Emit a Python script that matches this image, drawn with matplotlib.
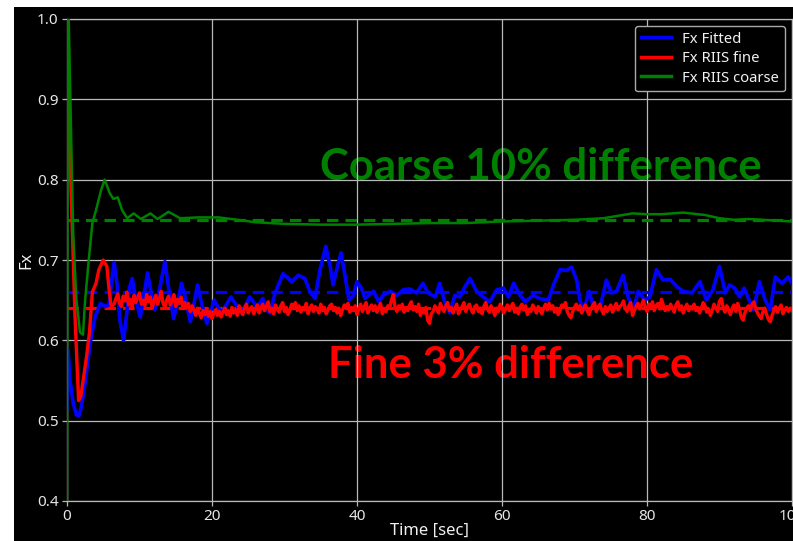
import numpy as np
import matplotlib
matplotlib.use("Agg")
import matplotlib.pyplot as plt
from matplotlib.patches import Rectangle

plt.rcParams['font.family'] = ['Noto Sans', 'DejaVu Sans']

# ---------------- data ----------------
fitted_t = [0, 0.15, 0.4, 0.85, 1.3, 1.65, 2.0, 2.5, 3.2, 3.9, 4.6, 5.3, 5.8, 6.1, 6.5, 6.9, 7.3,
            7.8, 8.2, 8.6, 9.0, 9.5, 10.1, 10.6, 11.1, 11.6, 12.1, 12.8, 13.5, 14.1, 14.7, 15.2,
            15.8, 16.4, 17.0, 17.5, 18.0, 18.6, 19.3, 20.3, 21.3, 22.6, 24.1, 25.2,
            26.2, 27.0, 27.5, 28.0, 28.7, 29.8, 31.0, 31.9, 32.8, 33.5, 34.2, 34.9, 35.7, 36.3,
            36.7, 37.3, 37.8, 38.3, 38.9, 39.5, 40.0, 40.6, 41.1, 41.6, 42.3, 43.0, 43.6, 44.6,
            45.5, 46.4, 47.3, 48.2, 49.1, 49.8, 50.8, 51.4, 52.1, 52.8, 53.5, 54.2, 54.9, 55.6,
            56.5, 57.4, 58.3, 59.3, 60.2, 60.9, 61.6, 62.5, 63.2, 64.3, 65.2, 66.4, 67.1, 68.0,
            68.9, 69.6, 70.3, 70.8, 71.3, 72.0, 72.6, 73.5, 74.4, 75.1, 75.8, 76.7, 77.4, 78.1,
            78.8, 79.7, 80.4, 81.3, 82.2, 83.2, 84.1, 85.0, 86.2, 87.3, 88.2, 89.1, 90.0, 90.8,
            91.4, 92.1, 92.8, 93.4, 94.0, 94.7, 95.5, 96.3, 97.0, 97.7, 98.6, 99.5, 100.0]
fitted_v = [0.513, 0.588, 0.551, 0.522, 0.507, 0.506, 0.518, 0.547, 0.597, 0.630, 0.646, 0.642,
            0.645, 0.670, 0.697, 0.670, 0.625, 0.600, 0.630, 0.665, 0.677, 0.650, 0.629, 0.655,
            0.684, 0.660, 0.638, 0.665, 0.698, 0.660, 0.627, 0.645, 0.671, 0.650, 0.623, 0.645,
            0.669, 0.645, 0.621, 0.650, 0.634, 0.654, 0.634, 0.654,
            0.642, 0.652, 0.638, 0.634, 0.659, 0.683, 0.673, 0.681, 0.677, 0.661, 0.652, 0.688,
            0.717, 0.692, 0.669, 0.692, 0.709, 0.683, 0.650, 0.656, 0.673, 0.665, 0.652, 0.656,
            0.661, 0.648, 0.656, 0.661, 0.656, 0.663, 0.664, 0.659, 0.671, 0.659, 0.654, 0.671,
            0.648, 0.634, 0.656, 0.654, 0.667, 0.677, 0.661, 0.654, 0.648, 0.663, 0.665, 0.654,
            0.671, 0.656, 0.648, 0.656, 0.652, 0.650, 0.669, 0.688, 0.687, 0.691, 0.675, 0.648,
            0.638, 0.661, 0.642, 0.640, 0.675, 0.659, 0.661, 0.681, 0.654, 0.638, 0.661, 0.650,
            0.654, 0.688, 0.675, 0.676, 0.667, 0.661, 0.659, 0.673, 0.650, 0.663, 0.692, 0.659,
            0.669, 0.665, 0.654, 0.665, 0.652, 0.638, 0.673, 0.650, 0.638, 0.679, 0.671, 0.679,
            0.671]

fine_start_t = [0, 0.15, 0.6, 1.1, 1.6, 1.9, 2.3, 2.7, 3.1, 3.5, 4.0, 4.4, 5.0, 5.5, 5.8, 6.1]
fine_start_v = [1.0, 0.90, 0.775, 0.63, 0.525, 0.53, 0.555, 0.58, 0.61, 0.66, 0.671, 0.688,
                0.700, 0.692, 0.663, 0.642]
fine_noise_t0 = 6.5
fine_step = 0.25
fine_noise = [
    0.645, 0.652, 0.658, 0.646, 0.642, 0.655, 0.649, 0.660, 0.644, 0.651, 0.641, 0.656, 0.647, 0.653, 0.659, 0.645, 0.650, 0.643, 0.657, 0.648,
    0.654, 0.640, 0.649, 0.656, 0.645, 0.652, 0.661, 0.646, 0.641, 0.650, 0.655, 0.644, 0.649, 0.657, 0.642, 0.651, 0.646, 0.654, 0.640, 0.647,
    0.640, 0.646, 0.636, 0.643, 0.638, 0.631, 0.640, 0.634, 0.628, 0.637, 0.632, 0.639, 0.630, 0.636, 0.627, 0.634, 0.638, 0.631, 0.636, 0.629,
    0.635, 0.640, 0.632, 0.637, 0.630, 0.641, 0.634, 0.638, 0.631, 0.643, 0.636, 0.632, 0.640, 0.645, 0.634, 0.639, 0.642, 0.633, 0.638, 0.644,
    0.634, 0.641, 0.645, 0.637, 0.642, 0.648, 0.636, 0.640, 0.633, 0.644, 0.639, 0.635, 0.643, 0.647, 0.636, 0.641, 0.632, 0.638, 0.645, 0.640,
    0.647, 0.637, 0.643, 0.635, 0.641, 0.638, 0.646, 0.633, 0.640, 0.644, 0.636, 0.642, 0.639, 0.634, 0.645, 0.637, 0.641, 0.633, 0.638, 0.643,
    0.645, 0.637, 0.641, 0.634, 0.640, 0.631, 0.638, 0.644, 0.640, 0.646, 0.635, 0.641, 0.637, 0.643, 0.632, 0.639, 0.645, 0.636, 0.642, 0.647,
    0.634, 0.640, 0.644, 0.637, 0.643, 0.635, 0.641, 0.646, 0.633, 0.639, 0.636, 0.643, 0.640, 0.650, 0.657, 0.641, 0.636, 0.643, 0.639, 0.645,
    0.635, 0.641, 0.637, 0.644, 0.648, 0.638, 0.642, 0.636, 0.645, 0.631, 0.638, 0.634, 0.641, 0.625, 0.621, 0.633, 0.636, 0.643, 0.639, 0.634,
    0.646, 0.640, 0.636, 0.643, 0.647, 0.637, 0.641, 0.634, 0.640, 0.645, 0.633, 0.638, 0.642, 0.647, 0.636, 0.641, 0.645, 0.638, 0.634, 0.642,
    0.644, 0.636, 0.640, 0.633, 0.642, 0.647, 0.639, 0.635, 0.643, 0.638, 0.631, 0.640, 0.636, 0.645, 0.641, 0.634, 0.639, 0.644, 0.637, 0.642,
    0.646, 0.635, 0.640, 0.633, 0.641, 0.645, 0.638, 0.643, 0.632, 0.639, 0.636, 0.644, 0.640, 0.634, 0.642, 0.637, 0.633, 0.640, 0.645, 0.638,
    0.646, 0.639, 0.643, 0.635, 0.640, 0.632, 0.637, 0.644, 0.641, 0.647, 0.636, 0.631, 0.628, 0.636, 0.641, 0.645, 0.638, 0.643, 0.634, 0.640,
    0.644, 0.637, 0.632, 0.639, 0.643, 0.647, 0.636, 0.641, 0.645, 0.638, 0.633, 0.642, 0.636, 0.640, 0.644, 0.635, 0.641, 0.646, 0.638, 0.642,
    0.644, 0.649, 0.640, 0.636, 0.643, 0.647, 0.631, 0.637, 0.642, 0.646, 0.639, 0.644, 0.650, 0.641, 0.636, 0.645, 0.640, 0.648, 0.637, 0.643,
    0.646, 0.639, 0.651, 0.644, 0.637, 0.642, 0.638, 0.645, 0.640, 0.635, 0.644, 0.648, 0.638, 0.643, 0.634, 0.640, 0.645, 0.637, 0.642, 0.639,
    0.645, 0.637, 0.641, 0.634, 0.640, 0.647, 0.643, 0.635, 0.639, 0.631, 0.637, 0.645, 0.640, 0.636, 0.649, 0.652, 0.641, 0.635, 0.643, 0.638,
    0.632, 0.640, 0.644, 0.636, 0.646, 0.639, 0.629, 0.625, 0.634, 0.640, 0.643, 0.637, 0.645, 0.648, 0.639, 0.634, 0.630, 0.627, 0.636, 0.640,
    0.632, 0.626, 0.623, 0.631, 0.637, 0.642, 0.635, 0.640, 0.644, 0.633, 0.638, 0.641, 0.636, 0.640, 0.637]

coarse_t = [0, 0.12, 0.85, 1.3, 1.8, 2.2, 2.5, 3.0, 3.5, 4.0, 4.7, 5.2, 5.9, 6.4, 7.0, 7.6, 8.3,
            9.2, 10.2, 11.5, 12.5, 14.0, 15.6, 18.1, 20.9, 23.6, 26.0, 28, 30, 35, 40, 45, 50,
            55, 60, 65, 70, 74, 76, 78, 80, 82, 85, 88, 90, 92, 94, 96, 98, 100]
coarse_v = [0.40, 1.05, 0.734, 0.650, 0.610, 0.607, 0.650, 0.700, 0.746, 0.762, 0.787, 0.800,
            0.783, 0.776, 0.778, 0.762, 0.752, 0.758, 0.751, 0.758, 0.751, 0.760, 0.752, 0.753,
            0.753, 0.750, 0.747, 0.746, 0.745, 0.744, 0.744, 0.745, 0.746, 0.746, 0.748, 0.749,
            0.750, 0.752, 0.755, 0.758, 0.757, 0.757, 0.759, 0.756, 0.752, 0.750, 0.751, 0.750,
            0.749, 0.748]

mean_levels = {'fitted': 0.660, 'fine': 0.640, 'coarse': 0.750}

x_ticks = [0, 20, 40, 60, 80, 100]
y_ticks = [0.4, 0.5, 0.6, 0.7, 0.8, 0.9, 1.0]

# ---------------- figure ----------------
W, H = 793, 541
fig = plt.figure(figsize=(W / 100, H / 100), dpi=100, facecolor='white')
fig.patches.append(Rectangle((14 / W, 0), 1 - 14 / W, 1 - 7 / H, transform=fig.transFigure,
                             facecolor='black', edgecolor='none', zorder=-10))
ax = fig.add_axes([67 / W, 40 / H, (792 - 67) / W, (501 - 19) / H])
ax.set_facecolor('black')

fine_noise_times = fine_noise_t0 + fine_step * np.arange(len(fine_noise))
fine_t = list(fine_start_t) + list(fine_noise_times)
fine_v = list(fine_start_v) + list(fine_noise)

ax.plot(fitted_t, fitted_v, color='#0000ff', lw=2.6, label='Fx Fitted', zorder=3)
ax.plot(fine_t, fine_v, color='#ff0000', lw=2.4, label='Fx RIIS fine', zorder=3)
ax.plot(coarse_t, coarse_v, color='#008000', lw=1.8, label='Fx RIIS coarse', zorder=3)

dash = (0, (3.6, 2.2))
ax.axhline(mean_levels['fitted'], color='#0000ff', lw=2.3, ls=dash, zorder=2.8)
ax.axhline(mean_levels['fine'], color='#ff0000', lw=2.3, ls=dash, zorder=2.8)
ax.axhline(mean_levels['coarse'], color='#008000', lw=2.3, ls=dash, zorder=2.8)

ax.set_xlim(0, 100)
ax.set_ylim(0.4, 1.0)
ax.set_xticks(x_ticks)
ax.set_yticks(y_ticks)
ax.set_axisbelow(False)
ax.grid(True, color='#b8b8b8', lw=0.9, zorder=2.5)
for s in ax.spines.values():
    s.set_color('#b8b8b8')
    s.set_linewidth(0.9)
ax.tick_params(colors='#e6e6e6', labelsize=11, length=3.5, width=0.9, pad=2.5)
ax.tick_params(axis='both', color='#b8b8b8')
ax.set_xlabel('Time [sec]', color='#f0f0f0', fontsize=12, labelpad=-1)
ax.set_ylabel('Fx', color='#f0f0f0', fontsize=12, labelpad=2)

leg = ax.legend(loc='upper right', facecolor='black', edgecolor='#aaaaaa', fontsize=10.7,
                framealpha=1.0, labelcolor='#f0f0f0', handlelength=2.0, labelspacing=0.3,
                borderaxespad=0.45)
for h in leg.get_lines():
    h.set_linewidth(2.5)

ax.text(34.9, 0.7996, 'Coarse 10% difference', color='#008000', fontsize=31.4,
        fontfamily='Lato', fontweight='bold', ha='left', va='baseline', zorder=1)
ax.text(36.0, 0.553, 'Fine 3% difference', color='#ff0000', fontsize=31.5,
        fontfamily='Lato', fontweight='bold', ha='left', va='baseline', zorder=1)

fig.savefig('out.png', dpi=100, facecolor='white')
